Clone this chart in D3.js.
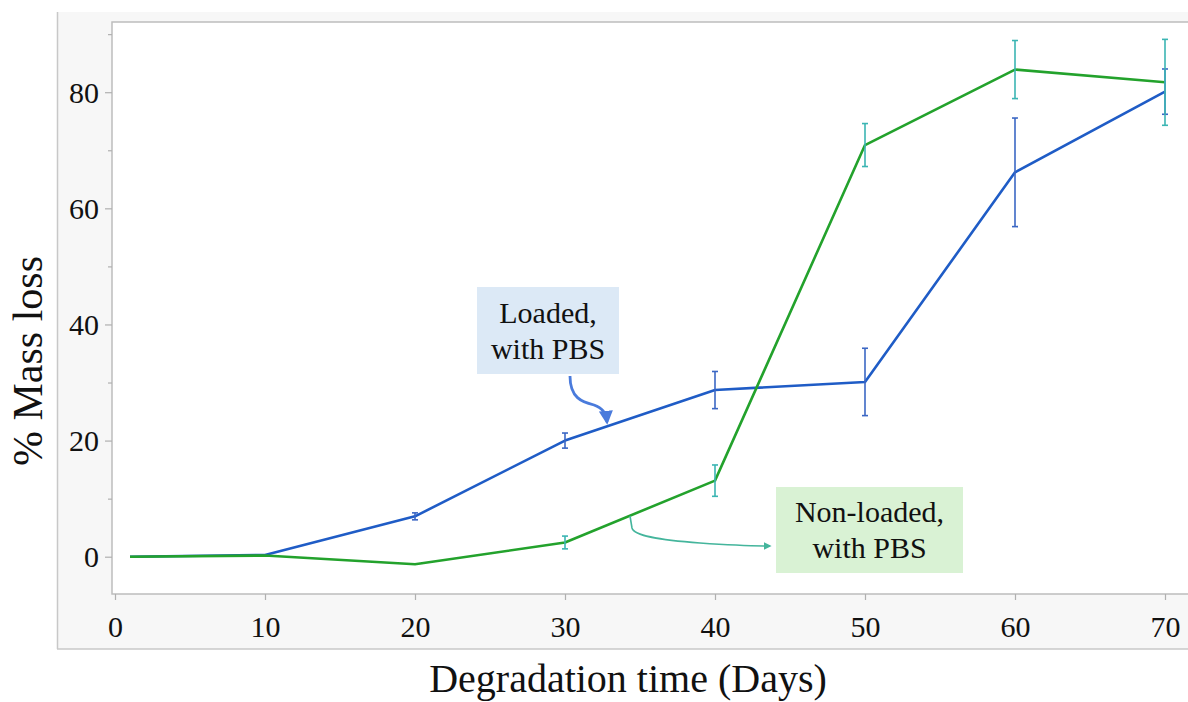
<!DOCTYPE html>
<html><head><meta charset="utf-8">
<script src="https://cdn.jsdelivr.net/npm/d3@7"></script>
<style>
html,body{margin:0;padding:0;background:#fff;}
svg{display:block;}
svg text{font-family:"Liberation Serif","Times New Roman",serif !important;fill:#111;}
</style></head>
<body>
<svg id="chart" width="1188" height="702"></svg>
<script>
// ---- data ----
const days = [1, 10, 20, 30, 40, 50, 60, 70];
const loaded = [0, 0.3, 6.95, 20.0, 28.7, 30.1, 66.2, 80.1];
const loadedErr = [0, 0, 0.6, 1.3, 3.2, 5.8, 9.35, 3.9];
const nonLoaded = [0, 0.2, -1.3, 2.45, 13.1, 70.9, 83.9, 81.7];
const nonLoadedErr = [0, 0, 0, 1.1, 2.7, 3.7, 5.0, 7.4];
const xTicks = [0, 10, 20, 30, 40, 50, 60, 70];
const yTicks = [0, 20, 40, 60, 80];
const yMinorTicks = [10, 30, 50, 70, 90];
const seriesNames = ["Loaded,\nwith PBS", "Non-loaded,\nwith PBS"];
const xTitle = "Degradation time (Days)";
const yTitle = "% Mass loss";

const SERIF = '"Liberation Serif", "Times New Roman", serif';
const svg = d3.select("#chart").attr("font-family", SERIF);
const frame = {left: 112, top: 22, right: 1190, bottom: 594};
const x = d3.scaleLinear().domain([0, 70]).range([115, 1165]);
const y = d3.scaleLinear().domain([0, 80]).range([556.7, 92.2]);

// outer panel
svg.append("rect").attr("x", 57).attr("y", 12).attr("width", 1140).attr("height", 637)
  .attr("fill", "#f7f7f7");
svg.append("line").attr("x1", 57.5).attr("x2", 57.5).attr("y1", 12).attr("y2", 649)
  .attr("stroke", "#c8c8c8").attr("stroke-width", 1.5);
svg.append("line").attr("x1", 57).attr("x2", 1188).attr("y1", 649).attr("y2", 649)
  .attr("stroke", "#c8c8c8").attr("stroke-width", 1.5);

// inner plot
svg.append("rect").attr("x", frame.left).attr("y", frame.top)
  .attr("width", frame.right - frame.left).attr("height", frame.bottom - frame.top)
  .attr("fill", "#fff").attr("stroke", "#bdbdbd").attr("stroke-width", 1.5);

// axes
const xAxis = d3.axisBottom(x).tickValues(xTicks).tickSize(6).tickPadding(8);
const gx = svg.append("g").attr("transform", `translate(0,${frame.bottom})`).call(xAxis)
  .attr("font-family", SERIF).attr("font-size", 30);
gx.select(".domain").remove();
gx.selectAll(".tick line").attr("stroke", "#b0b0b0").attr("stroke-width", 1.2);
gx.selectAll(".tick text").attr("font-size", 30).attr("dy", "0.95em")
  .attr("font-family", SERIF).attr("fill", "#111");

const yAxis = d3.axisLeft(y).tickValues(yTicks).tickSize(7).tickPadding(6);
const gy = svg.append("g").attr("transform", `translate(${frame.left},0)`).call(yAxis)
  .attr("font-family", SERIF).attr("font-size", 30);
gy.select(".domain").remove();
gy.selectAll(".tick line").attr("stroke", "#b0b0b0").attr("stroke-width", 1.2);
gy.selectAll(".tick text").attr("font-size", 30).attr("dy", "0.34em")
  .attr("font-family", SERIF).attr("fill", "#111");

const yMinor = d3.axisLeft(y).tickValues(yMinorTicks).tickSize(4).tickFormat("");
const gym = svg.append("g").attr("transform", `translate(${frame.left},0)`).call(yMinor);
gym.select(".domain").remove();
gym.selectAll(".tick line").attr("stroke", "#b0b0b0").attr("stroke-width", 1.2);

// axis titles
svg.append("text").attr("x", 628).attr("y", 692).attr("text-anchor", "middle")
  .attr("font-family", SERIF).attr("font-size", 40).text(xTitle);
svg.append("text").attr("transform", "translate(42,361) rotate(-90)")
  .attr("font-family", SERIF).attr("text-anchor", "middle").attr("font-size", 42).text(yTitle);

// lines
const line = d3.line().x((d, i) => x(days[i])).y(d => y(d));
const plot = svg.append("g");
plot.append("path").datum(loaded).attr("d", line).attr("fill", "none")
  .attr("stroke", "#1f5cc6").attr("stroke-width", 2.6).attr("stroke-linejoin", "round");
plot.append("path").datum(nonLoaded).attr("d", line).attr("fill", "none")
  .attr("stroke", "#23a22c").attr("stroke-width", 2.6).attr("stroke-linejoin", "round");

// error bars
function errorBars(vals, errs, color) {
  const g = plot.append("g").attr("stroke", color).attr("stroke-width", 1.6).attr("fill", "none");
  vals.forEach((v, i) => {
    const e = errs[i];
    if (!e) return;
    const cx = x(days[i]);
    g.append("line").attr("x1", cx).attr("x2", cx).attr("y1", y(v - e)).attr("y2", y(v + e));
    g.append("line").attr("x1", cx - 3).attr("x2", cx + 3).attr("y1", y(v - e)).attr("y2", y(v - e));
    g.append("line").attr("x1", cx - 3).attr("x2", cx + 3).attr("y1", y(v + e)).attr("y2", y(v + e));
  });
}
errorBars(loaded, loadedErr, "#3b67c4");
errorBars(nonLoaded, nonLoadedErr, "#3bb5b3");

// annotations
const defs = svg.append("defs");
function marker(id, color) {
  defs.append("marker").attr("id", id).attr("viewBox", "0 0 10 10").attr("refX", 8).attr("refY", 5)
    .attr("markerWidth", 5).attr("markerHeight", 5).attr("orient", "auto-start-reverse")
    .append("path").attr("d", "M0,0 L10,5 L0,10 z").attr("fill", color);
}
marker("arrB", "#4a7bdc");
marker("arrG", "#44b59c");

// Loaded box
svg.append("rect").attr("x", 477).attr("y", 287).attr("width", 142).attr("height", 87)
  .attr("fill", "#dce9f6");
const t1 = seriesNames[0].split("\n");
t1.forEach((s, i) => svg.append("text").attr("x", 548).attr("y", 323 + i * 36)
  .attr("font-family", SERIF).attr("text-anchor", "middle").attr("font-size", 30).text(s));
svg.append("path").attr("d", "M570,376 C570,398 582,402 594,405 C602,408 606,412 607,422")
  .attr("fill", "none").attr("stroke", "#4a7bdc").attr("stroke-width", 2.8)
  .attr("marker-end", "url(#arrB)");

// Non-loaded box
svg.append("rect").attr("x", 776).attr("y", 487).attr("width", 187).attr("height", 86)
  .attr("fill", "#d9f2d4");
const t2 = seriesNames[1].split("\n");
t2.forEach((s, i) => svg.append("text").attr("x", 869.5).attr("y", 522 + i * 36)
  .attr("font-family", SERIF).attr("text-anchor", "middle").attr("font-size", 30).text(s));
svg.append("path").attr("d", "M630,516 L632,528 C634,536 660,540 700,543 C730,545 755,546 770,546")
  .attr("fill", "none").attr("stroke", "#44b59c").attr("stroke-width", 1.6)
  .attr("marker-end", "url(#arrG)");
</script>
</body></html>
